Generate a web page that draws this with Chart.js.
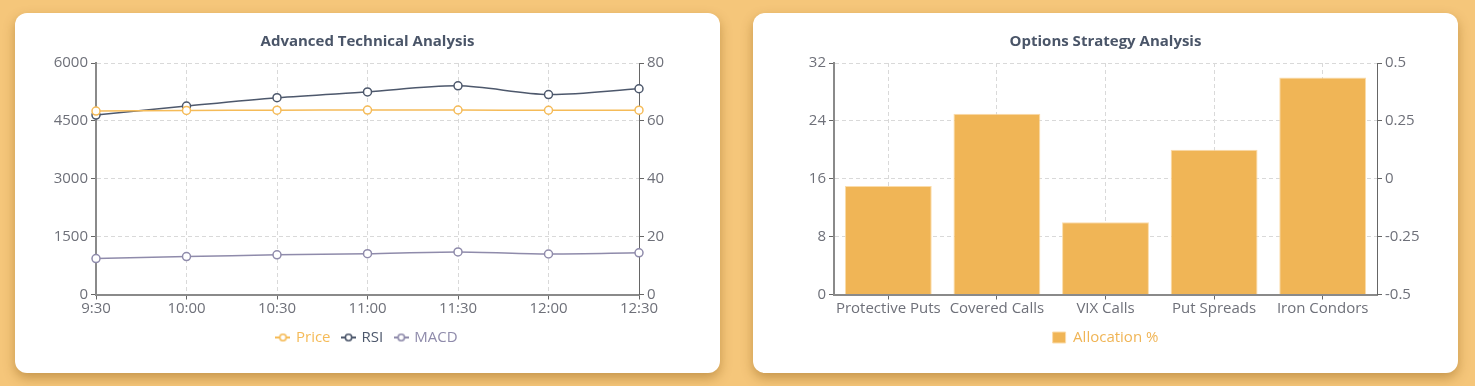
<!DOCTYPE html>
<html>
<head>
<meta charset="utf-8">
<script src="https://cdn.jsdelivr.net/npm/chart.js@4.4.1/dist/chart.umd.min.js"></script>
<style>
  html, body { margin: 0; padding: 0; }
  body { width: 1475px; height: 386px; background: #f5c67a; position: relative; overflow: hidden; font-family: "Open Sans", sans-serif; }
  .card { position: absolute; top: 13px; width: 705px; height: 360px; background: #fff; border-radius: 12px; box-shadow: 0 5px 12px rgba(140, 90, 20, 0.45); overflow: hidden; }
  #c1 { left: 15px; }
  #c2 { left: 753px; }
  canvas { display: block; }
</style>
</head>
<body>
<div class="card" id="c1"><canvas id="lineChart" width="705" height="360"></canvas></div>
<div class="card" id="c2"><canvas id="barChart" width="705" height="360"></canvas></div>
<script>
// ---- Data ----
const timeLabels = ['9:30', '10:00', '10:30', '11:00', '11:30', '12:00', '12:30'];
const priceValues = [4755, 4770, 4778, 4780, 4782, 4775, 4778];
const rsiValues = [62.0, 65.1, 68.0, 70.0, 72.1, 69.1, 71.1];
const macdValues = [12.4, 13.1, 13.7, 14.1, 14.7, 14.0, 14.4];

const strategyLabels = ['Protective Puts', 'Covered Calls', 'VIX Calls', 'Put Spreads', 'Iron Condors'];
const allocationValues = [15, 25, 10, 20, 30];

const leftTicks1 = { min: 0, max: 6000, step: 1500 };
const rightTicks1 = { min: 0, max: 80, step: 20 };
const leftTicks2 = { min: 0, max: 32, step: 8 };
const rightTicks2 = { min: -0.5, max: 0.5, step: 0.25 };

// ---- Styles ----
const FONT = '"Open Sans", sans-serif';
const TICK_COLOR = '#6e7079';
const GRID_COLOR = '#d9d9d9';
const PRICE_COLOR = '#f5bb58';
const RSI_COLOR = '#4d586c';
const MACD_COLOR = '#8f8bab';
const BAR_COLOR = '#f0b556';
const TITLE_COLOR = '#4a5568';

function lineSymbol(color) {
  const c = document.createElement('canvas');
  c.width = 15; c.height = 10;
  const ctx = c.getContext('2d');
  ctx.strokeStyle = color;
  ctx.lineWidth = 2;
  ctx.beginPath(); ctx.moveTo(0, 5); ctx.lineTo(15, 5); ctx.stroke();
  ctx.beginPath(); ctx.arc(7.5, 5, 3.2, 0, Math.PI * 2);
  ctx.fillStyle = '#fff'; ctx.fill();
  ctx.lineWidth = 1.6; ctx.stroke();
  return c;
}

function yAxis(position, t, gridOnArea) {
  return {
    position: position,
    min: t.min, max: t.max,
    afterFit: (s) => { s.width = 61; },
    ticks: { stepSize: t.step, color: TICK_COLOR, font: { family: FONT, size: 15 }, padding: 3,
             callback: (v) => String(Math.round(v * 1000) / 1000) },
    grid: { drawOnChartArea: gridOnArea, color: GRID_COLOR, tickColor: '#666', tickLength: 5, lineWidth: 1 },
    border: { display: true, color: position === 'left' ? '#8a8a8a' : '#666', width: position === 'left' ? 2 : 1, dash: [4, 3] }
  };
}

function commonTitle(text) {
  return {
    display: true, text: text, color: TITLE_COLOR,
    font: { family: FONT, size: 15, weight: 'bold' },
    padding: { top: 20, bottom: 12 }
  };
}

// ---- Line chart ----
const lineColors = [PRICE_COLOR, RSI_COLOR, MACD_COLOR];
new Chart(document.getElementById('lineChart'), {
  type: 'line',
  data: {
    labels: timeLabels,
    datasets: [
      { label: 'Price', data: priceValues, yAxisID: 'y', borderColor: PRICE_COLOR },
      { label: 'RSI', data: rsiValues, yAxisID: 'y1', borderColor: RSI_COLOR },
      { label: 'MACD', data: macdValues, yAxisID: 'y1', borderColor: MACD_COLOR }
    ].map(d => Object.assign(d, {
      backgroundColor: '#fff', pointBackgroundColor: '#fff', pointBorderColor: d.borderColor,
      pointRadius: 4, pointBorderWidth: 1.5, borderWidth: 1.5, tension: 0.3, fill: false
    }))
  },
  options: {
    responsive: false, animation: false, devicePixelRatio: 1,
    layout: { padding: { left: 20, right: 20, top: 0, bottom: 18 } },
    plugins: {
      title: commonTitle('Advanced Technical Analysis'),
      tooltip: { enabled: false },
      legend: {
        position: 'bottom',
        labels: {
          usePointStyle: true, pointStyleWidth: 11, padding: 12.5,
          font: { family: FONT, size: 15 },
          generateLabels: (chart) => chart.data.datasets.map((d, i) => ({
            text: d.label, fontColor: lineColors[i], pointStyle: lineSymbol(lineColors[i]),
            strokeStyle: lineColors[i], fillStyle: '#fff', lineWidth: 0, datasetIndex: i, hidden: false
          }))
        }
      }
    },
    scales: {
      x: {
        offset: false,
        ticks: { color: TICK_COLOR, font: { family: FONT, size: 15 }, padding: 0, maxRotation: 0, autoSkip: false },
        grid: { color: GRID_COLOR, tickColor: '#666', tickLength: 5 },
        border: { color: '#8a8a8a', width: 2, dash: [4, 3] }
      },
      y: yAxis('left', leftTicks1, true),
      y1: yAxis('right', rightTicks1, false)
    }
  }
});

// ---- Bar chart ----
new Chart(document.getElementById('barChart'), {
  type: 'bar',
  data: {
    labels: strategyLabels,
    datasets: [
      { label: 'Allocation %', data: allocationValues, yAxisID: 'y', backgroundColor: BAR_COLOR,
        borderColor: '#fbdcaa', borderWidth: 1, barPercentage: 0.8, categoryPercentage: 1.0 }
    ]
  },
  options: {
    responsive: false, animation: false, devicePixelRatio: 1,
    layout: { padding: { left: 20, right: 20, top: 0, bottom: 18 } },
    plugins: {
      title: commonTitle('Options Strategy Analysis'),
      tooltip: { enabled: false },
      legend: {
        position: 'bottom',
        labels: {
          boxWidth: 13, boxHeight: 11, padding: 12.5, color: BAR_COLOR,
          font: { family: FONT, size: 15 }
        }
      }
    },
    scales: {
      x: {
        offset: true,
        ticks: { color: TICK_COLOR, font: { family: FONT, size: 15 }, padding: 0, maxRotation: 0, autoSkip: false },
        grid: { offset: false, color: GRID_COLOR, tickColor: '#666', tickLength: 5 },
        border: { color: '#8a8a8a', width: 2, dash: [4, 3] }
      },
      y: yAxis('left', leftTicks2, true),
      y1: Object.assign(yAxis('right', rightTicks2, false), { display: true })
    }
  }
});
</script>
</body>
</html>
